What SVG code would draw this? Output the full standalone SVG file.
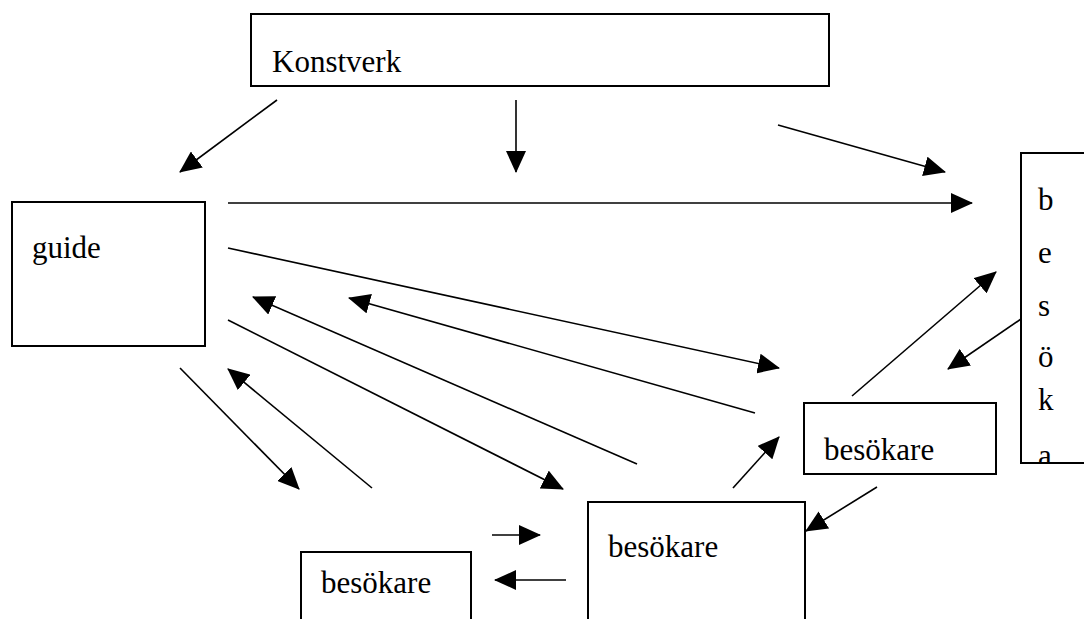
<svg xmlns="http://www.w3.org/2000/svg" width="1084" height="619" viewBox="0 0 1084 619">
<style>
.box{fill:#fff;stroke:#000;stroke-width:2}
.lbl{font-family:'Liberation Serif','DejaVu Serif','Times New Roman',serif;font-size:31px;fill:#000}
.c{stroke:#000;stroke-width:1.6;fill:none;marker-end:url(#ah)}
</style>
<defs>
<marker id="ah" markerUnits="userSpaceOnUse" markerWidth="22" markerHeight="20" refX="21" refY="10" orient="auto">
<path d="M0,0 L22,10 L0,20 z" fill="#000"/>
</marker>
<clipPath id="rclip"><rect x="1021" y="154" width="70" height="308"/></clipPath>
</defs>
<rect width="1084" height="619" fill="#fff"/>
<g id="konstverk">
<rect class="box" x="251" y="14" width="578" height="72"/>
<text class="lbl" font-family="Liberation Serif, serif" x="272" y="72">Konstverk</text>
</g>
<g id="guide">
<rect class="box" x="12" y="202" width="193" height="144"/>
<text class="lbl" font-family="Liberation Serif, serif" x="32" y="258">guide</text>
</g>
<g id="besoka">
<rect class="box" x="1021" y="153" width="80" height="310"/>
<g clip-path="url(#rclip)" font-family="Liberation Serif, serif">
<text class="lbl" x="1038" y="210">b</text>
<text class="lbl" x="1038" y="263">e</text>
<text class="lbl" x="1038" y="316">s</text>
<text class="lbl" x="1038" y="367">ö</text>
<text class="lbl" x="1038" y="410">k</text>
<text class="lbl" x="1038" y="466">a</text>
</g>
</g>
<g id="besokare-right">
<rect class="box" x="804" y="403" width="192" height="71"/>
<text class="lbl" font-family="Liberation Serif, serif" x="824" y="460">besökare</text>
</g>
<g id="besokare-center">
<rect class="box" x="588" y="502" width="217" height="130"/>
<text class="lbl" font-family="Liberation Serif, serif" x="608" y="557">besökare</text>
</g>
<g id="besokare-left">
<rect class="box" x="301" y="552" width="170" height="80"/>
<text class="lbl" font-family="Liberation Serif, serif" x="321" y="593">besökare</text>
</g>
<g id="connectors">
<line class="c" x1="277" y1="100" x2="180" y2="172"/>
<line class="c" x1="516" y1="100" x2="516" y2="172"/>
<line class="c" x1="778" y1="125" x2="945" y2="172"/>
<line class="c" x1="228" y1="203" x2="972" y2="203"/>
<line class="c" x1="228" y1="248" x2="779" y2="368"/>
<line class="c" x1="755" y1="413" x2="349" y2="298"/>
<line class="c" x1="637" y1="464" x2="253" y2="297"/>
<line class="c" x1="228" y1="320" x2="563" y2="489"/>
<line class="c" x1="180" y1="368" x2="299" y2="489"/>
<line class="c" x1="372" y1="488" x2="228" y2="369"/>
<line class="c" x1="492" y1="535" x2="540" y2="535"/>
<line class="c" x1="566" y1="580" x2="495" y2="580"/>
<line class="c" x1="733" y1="488" x2="779" y2="437"/>
<line class="c" x1="852" y1="396" x2="996" y2="272"/>
<line class="c" x1="1021" y1="319" x2="948" y2="369"/>
<line class="c" x1="877" y1="487" x2="806" y2="531"/>
</g>
</svg>
